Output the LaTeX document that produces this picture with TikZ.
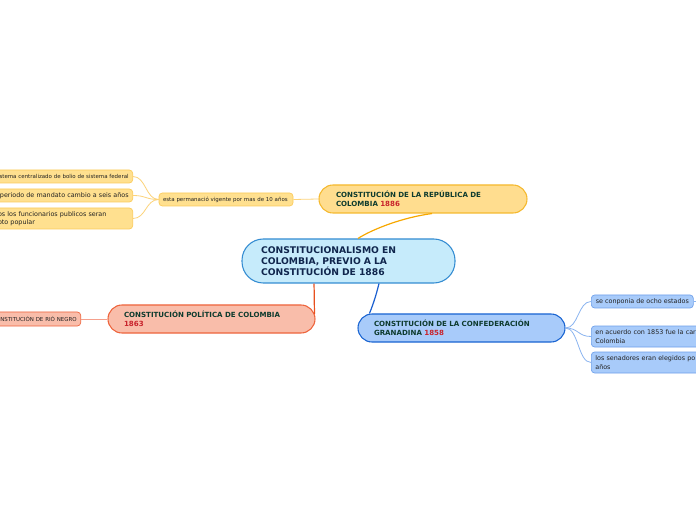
\documentclass[tikz,border=0pt]{standalone}
\usepackage{fontspec}
\setmainfont{DejaVu Sans}
\usetikzlibrary{calc}
\definecolor{cenfill}{RGB}{198,235,251}
\definecolor{cenline}{RGB}{52,140,210}
\definecolor{centext}{RGB}{16,38,77}
\definecolor{yfill}{RGB}{255,221,143}
\definecolor{yline}{RGB}{245,185,46}
\definecolor{ylink}{RGB}{247,168,0}
\definecolor{ylfill}{RGB}{255,224,143}
\definecolor{ylline}{RGB}{251,203,90}
\definecolor{yllink}{RGB}{252,211,122}
\definecolor{rfill}{RGB}{249,189,170}
\definecolor{rline}{RGB}{238,100,60}
\definecolor{rlink}{RGB}{232,80,30}
\definecolor{rllink}{RGB}{245,160,140}
\definecolor{bfill}{RGB}{168,203,250}
\definecolor{bline}{RGB}{25,100,210}
\definecolor{blink}{RGB}{26,95,208}
\definecolor{blline}{RGB}{110,160,235}
\definecolor{bllink}{RGB}{138,180,240}
\definecolor{maintext}{RGB}{14,59,46}
\definecolor{yeartext}{RGB}{200,35,44}
\definecolor{leaftext}{RGB}{34,34,34}
\tikzset{
  centralbox/.style={draw=cenline, fill=cenfill, line width=0.8pt, rounded corners=16pt,
    minimum width=159.75pt, minimum height=33pt, inner xsep=14.25pt, text width=131.25pt,
    align=left, text=centext, font=\fontsize{6.9}{8.25}\selectfont\bfseries},
  mainbox/.style={line width=0.8pt, rounded corners=10.5pt,
    minimum height=21pt, inner xsep=12pt, text width=131.25pt,
    align=left, text=maintext, font=\fontsize{5.3}{6.75}\selectfont\bfseries},
  leafbox/.style={line width=0.5pt, rounded corners=2.5pt, inner xsep=3pt, inner ysep=1pt,
    text=leaftext, font=\fontsize{4.8}{6.2}\selectfont},
  smallleaf/.style={leafbox, font=\fontsize{4.1}{5.2}\selectfont}
}
\begin{document}
\begin{tikzpicture}[x=0.75pt,y=-0.75pt]
\useasboundingbox (0,0) rectangle (696,520);
\clip (0,0) rectangle (696,520);
\fill[white] (0,0) rectangle (696,520);

% main nodes
\node[centralbox] (c) at (348.5,261) {CONSTITUCIONALISMO EN\\COLOMBIA, PREVIO A LA\\CONSTITUCIÓN DE 1886};
\node[mainbox, draw=yline, fill=yfill, minimum width=156pt, text width=130.5pt, inner xsep=12.75pt] (rep) at (423,199)
  {CONSTITUCIÓN DE LA REPÚBLICA DE\\COLOMBIA \textcolor{yeartext}{1886}};
\node[mainbox, draw=rline, fill=rfill, minimum width=155.25pt] (pol) at (211.5,319)
  {CONSTITUCIÓN POLÍTICA DE COLOMBIA\\\textcolor{yeartext}{1863}};
\node[mainbox, draw=bline, fill=bfill, minimum width=155.25pt] (con) at (461.5,328)
  {CONSTITUCIÓN DE LA CONFEDERACIÓN\\GRANADINA \textcolor{yeartext}{1858}};

% yellow branch
\node[smallleaf, draw=ylline, fill=ylfill, minimum width=100.5pt, minimum height=9.75pt, text width=94.5pt, align=left] (perm) at (226,199.5)
  {esta permanació vigente por mas de 10 años};
\node[smallleaf, draw=ylline, fill=ylfill, anchor=east, minimum height=9.75pt, text width=100pt, align=right] (y1) at (133,176.5)
  {istema centralizado de bolio de sistema federal};
\node[leafbox, draw=ylline, fill=ylfill, anchor=east, minimum height=9.75pt, text width=100pt, align=right] (y2) at (133,195.5)
  {periodo de mandato cambio a seis años};
\node[leafbox, draw=ylline, fill=ylfill, anchor=east, minimum height=15.75pt, text width=98pt, align=left] (y3) at (133,218.5)
  {os los funcionarios publicos seran\\oto popular};

% red branch
\node[leafbox, draw=rline, fill=rfill, anchor=east, minimum height=10.5pt, text width=80pt, align=right, font=\fontsize{4.1}{5}\selectfont] (r1) at (81,319)
  {NSTITUCIÓN DE RIÓ NEGRO};

% blue branch
\node[leafbox, draw=blline, fill=bfill, anchor=west, minimum height=9.75pt, minimum width=76.5pt, align=left] (b1) at (591,301.5)
  {se conponia de ocho estados};
\node[leafbox, draw=blline, fill=bfill, anchor=west, minimum height=15.75pt, text width=110pt, align=left] (b2) at (591,336.5)
  {en acuerdo con 1853 fue la car\\Colombia};
\node[leafbox, draw=blline, fill=bfill, anchor=west, minimum height=15.75pt, text width=110pt, align=left] (b3) at (591,362.5)
  {los senadores eran elegidos po\\años};
\coordinate (bx) at (720,301.5);

% connectors
\draw[ylink, line width=0.9pt] ($(c.north)+(9.5,0)$) .. controls +(14,-9) and +(-30,4) .. ($(rep.south)+(9,0)$);
\draw[rlink, line width=0.9pt] ($(c.south)+(-34.5,0)$) .. controls +(0.3,10) and +(-0.3,-10) .. ($(pol.east)+(-1,-5)$);
\draw[blink, line width=0.9pt] ($(c.south)+(30.5,0)$) .. controls +(-3,12) and +(4,-10) .. ($(con.north west)+(12,0)$);

\draw[yllink, line width=0.6pt] (rep.west) -- (perm.east);
\foreach \t in {y1,y2,y3}
  \draw[yllink, line width=0.6pt] (perm.west) .. controls +(-13,0) and +(13,0) .. (\t.east);
\draw[rllink, line width=0.6pt] (pol.west) -- (r1.east);
\foreach \t in {b1,b2,b3}
  \draw[bllink, line width=0.6pt] (con.east) .. controls +(13,0) and +(-13,0) .. (\t.west);
\draw[bllink, line width=0.6pt] (b1.east) -- (bx);
\end{tikzpicture}
\end{document}
